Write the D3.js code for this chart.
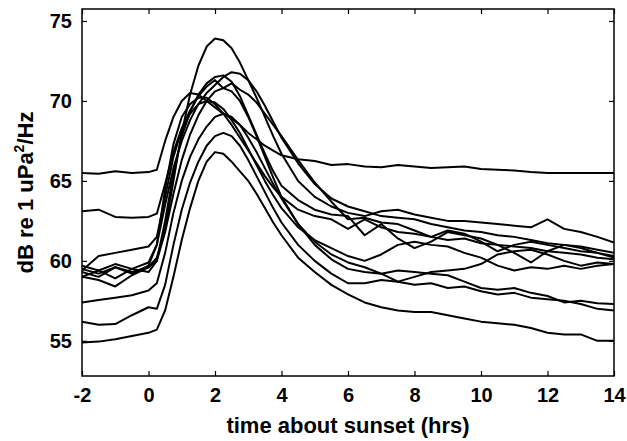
<!DOCTYPE html>
<html>
<head>
<meta charset="utf-8">
<script src="https://cdn.jsdelivr.net/npm/d3@7"></script>
<style>
  body { margin: 0; background: #fff; }
  text { font-family: "Liberation Sans", Arial, sans-serif; font-weight: bold; fill: #000; }
</style>
</head>
<body>
<div id="chart"></div>
<script>
// hours relative to sunset (shared by every night)
const hours = [-2, -1.5, -1, -0.5, 0,
  0.25, 0.5, 0.75, 1, 1.25, 1.5, 1.75, 2, 2.25, 2.5, 2.75, 3, 3.25, 3.5, 3.75, 4,
  4.5, 5, 5.5, 6, 6.5, 7, 7.5, 8, 8.5, 9, 9.5, 10, 10.5, 11, 11.5, 12, 12.5, 13, 13.5, 14];

// spectrum level per night, dB re 1 uPa^2/Hz
const night1 = [65.5, 65.45, 65.6, 65.5, 65.55,
  65.7, 67.5, 69.0, 70.0, 70.5, 70.4, 70.0, 69.6, 69.2, 68.9, 68.5, 68.0, 67.6, 67.2, 66.9, 66.6,
  66.35, 66.25, 66.0, 66.05, 65.9, 65.85, 66.0, 65.9, 65.8, 65.85, 65.9, 65.75, 65.7, 65.65, 65.55, 65.5, 65.5, 65.5, 65.5, 65.5];
const night2 = [63.1, 63.2, 62.75, 62.7, 62.75,
  62.95, 64.8, 66.8, 68.3, 69.4, 70.3, 70.9, 71.3, 70.8, 71.1, 70.7, 70.4, 69.9, 69.2, 68.5, 67.8,
  66.3, 64.9, 63.7, 62.6, 62.7, 62.4, 62.3, 61.9, 61.5, 61.9, 61.7, 61.2, 60.6, 61.0, 61.2, 61.0, 60.8, 60.6, 60.5, 60.3];
const night3 = [59.5, 59.2, 59.6, 59.3, 59.6,
  60.2, 62.0, 65.0, 68.0, 70.4, 72.2, 73.4, 73.9, 73.8, 73.3, 72.4, 71.3, 70.2, 69.0, 67.8, 66.7,
  65.0, 64.0, 63.4, 63.0, 62.8, 63.1, 63.2, 62.9, 62.7, 62.5, 62.5, 62.4, 62.3, 62.2, 62.1, 62.6, 62.0, 61.8, 61.5, 61.15];
const night4 = [59.7, 59.4, 59.8, 59.5, 59.9,
  61.0, 63.5, 65.8, 67.5, 68.8, 69.8, 70.5, 71.0, 71.5, 71.8, 71.7, 71.3, 70.6, 69.7, 68.7, 67.7,
  66.1, 64.8, 63.9, 63.4, 63.1, 62.8, 62.7, 62.6, 62.3, 62.1, 61.9, 61.8, 61.6, 61.5, 61.3, 61.1, 61.0, 60.9, 60.7, 60.5];
const night5 = [59.0, 59.4, 58.9, 59.5, 59.3,
  60.0, 62.5, 65.5, 67.8, 69.3, 70.4, 71.1, 71.5, 71.6, 71.2, 70.3, 69.1, 67.9, 66.7, 65.6, 64.7,
  63.8, 63.2, 62.9, 62.8, 61.6, 62.3, 61.4, 60.8, 61.2, 61.8, 61.6, 61.4, 61.0, 60.5, 59.9, 60.6, 61.0, 60.8, 60.5, 60.2];
const night6 = [59.3, 59.0, 59.6, 59.2, 59.7,
  61.0, 64.5, 67.3, 69.0, 69.8, 70.2, 70.2, 69.8, 69.2, 68.5, 67.7, 66.9, 66.1, 65.3, 64.6, 64.0,
  63.2, 62.8, 62.6, 62.0, 62.6, 62.1, 61.8, 61.7, 61.5, 61.3, 61.4, 61.1, 61.0, 60.9, 60.8, 60.6, 60.5, 60.4, 60.2, 60.1];
const night7 = [59.4, 60.3, 60.5, 60.7, 60.9,
  61.5, 64.0, 66.5, 68.2, 69.2, 69.8, 70.0, 69.9, 69.5, 68.8, 68.0, 67.0, 66.0, 65.0, 64.1, 63.3,
  62.1, 61.3, 60.8, 60.3, 60.0, 60.4, 61.0, 61.2, 61.0, 60.9, 60.5, 60.2, 59.7, 59.4, 59.6, 59.5, 59.7, 59.5, 59.7, 59.8];
const night8 = [59.0, 58.8, 58.4, 59.1, 59.6,
  60.0, 61.8, 64.2, 66.3, 67.9, 69.1, 70.0, 70.6, 70.8, 70.6, 70.0, 69.0, 67.8, 66.5, 65.2, 64.0,
  62.3, 61.2, 60.4, 59.9, 59.6, 59.2, 58.7, 58.5, 58.6, 58.3, 58.4, 58.1, 57.9, 58.0, 57.7, 57.6, 57.5, 57.3, 57.0, 56.9];
const night9 = [57.4, 57.55, 57.7, 57.85, 58.15,
  58.6, 60.5, 63.0, 65.0, 66.5, 67.6, 68.4, 69.0, 69.2, 69.0, 68.5, 67.7, 66.8, 65.8, 64.8, 63.9,
  62.3, 61.0, 60.1, 59.5, 59.3, 59.2, 59.4, 59.3, 59.2, 59.1, 58.7, 58.3, 58.2, 58.3, 58.0, 57.8, 57.4, 57.5, 57.35, 57.3];
const night10 = [56.2, 56.0, 56.05, 56.6, 57.1,
  57.0, 58.5, 61.0, 63.2, 64.9, 66.2, 67.2, 67.8, 68.0, 67.8, 67.2, 66.3, 65.3, 64.3, 63.3, 62.4,
  61.0, 60.0, 59.2, 58.6, 58.6, 58.8, 58.7, 59.0, 59.3, 59.4, 59.5, 59.8, 60.4, 60.6, 60.7, 60.4, 60.0, 59.7, 59.9, 59.8];
const night11 = [54.9, 54.95, 55.1, 55.3, 55.5,
  55.7, 56.9, 59.0, 61.3, 63.3, 65.0, 66.2, 66.8, 66.7, 66.2, 65.6, 65.0, 64.2, 63.3, 62.4, 61.6,
  60.2, 59.3, 58.5, 57.9, 57.4, 57.1, 56.9, 56.8, 56.8, 56.6, 56.4, 56.2, 56.1, 56.0, 55.8, 55.5, 55.4, 55.4, 55.0, 55.0];

const nights = [night1, night2, night3, night4, night5, night6, night7, night8, night9, night10, night11];

const xTicks = [-2, 0, 2, 4, 6, 8, 10, 12, 14];
const yTicks = [55, 60, 65, 70, 75];

const width = 627, height = 441;
const mLeft = 82, mRight = 614, mTop = 9, mBottom = 376;

const svg = d3.select("#chart").append("svg")
  .attr("width", width).attr("height", height);

const x = d3.scaleLinear().domain([-2, 14]).range([mLeft, mRight]);
const y = d3.scaleLinear().domain([52.8, 75.75]).range([mBottom, mTop]);

svg.append("clipPath").attr("id", "plotClip")
  .append("rect").attr("x", mLeft).attr("y", mTop)
  .attr("width", mRight - mLeft).attr("height", mBottom - mTop);

// curves
const line = d3.line()
  .x((d, i) => x(hours[i]))
  .y(d => y(d));

svg.append("g").attr("clip-path", "url(#plotClip)")
  .selectAll("path")
  .data(nights)
  .enter()
  .append("path")
  .attr("d", line)
  .attr("fill", "none")
  .attr("stroke", "#000")
  .attr("stroke-width", 2)
  .attr("stroke-linejoin", "round");

// axes, ticks pointing inwards on all four sides
const tickLen = 5;
const fmt = d => String(d);

const xBottom = svg.append("g").attr("transform", `translate(0,${mBottom})`)
  .call(d3.axisBottom(x).tickValues(xTicks).tickSizeInner(-tickLen).tickSizeOuter(0).tickPadding(12).tickFormat(fmt));
const xTop = svg.append("g").attr("transform", `translate(0,${mTop})`)
  .call(d3.axisTop(x).tickValues(xTicks).tickSizeInner(-tickLen).tickSizeOuter(0).tickFormat(""));
const yLeft = svg.append("g").attr("transform", `translate(${mLeft},0)`)
  .call(d3.axisLeft(y).tickValues(yTicks).tickSizeInner(-tickLen).tickSizeOuter(0).tickPadding(10).tickFormat(fmt));
const yRight = svg.append("g").attr("transform", `translate(${mRight},0)`)
  .call(d3.axisRight(y).tickValues(yTicks).tickSizeInner(-tickLen).tickSizeOuter(0).tickFormat(""));

[xBottom, xTop, yLeft, yRight].forEach(g => {
  g.select(".domain").remove();
  g.selectAll(".tick line").attr("stroke", "#000").attr("stroke-width", 1.2);
  g.selectAll(".tick text").attr("font-size", 20).attr("font-family", null).attr("fill", "#000");
});

svg.append("rect")
  .attr("x", mLeft).attr("y", mTop)
  .attr("width", mRight - mLeft).attr("height", mBottom - mTop)
  .attr("fill", "none").attr("stroke", "#000").attr("stroke-width", 1.5);

// labels
svg.append("text")
  .attr("x", (mLeft + mRight) / 2).attr("y", 433)
  .attr("text-anchor", "middle").attr("font-size", 22)
  .text("time about sunset (hrs)");

const ylab = svg.append("text")
  .attr("transform", `translate(33,${(mTop + mBottom) / 2}) rotate(-90)`)
  .attr("text-anchor", "middle").attr("font-size", 22);
ylab.append("tspan").text("dB re 1 uPa");
ylab.append("tspan").attr("dy", -9).attr("font-size", 14).text("2");
ylab.append("tspan").attr("dy", 9).text("/Hz");
</script>
</body>
</html>
